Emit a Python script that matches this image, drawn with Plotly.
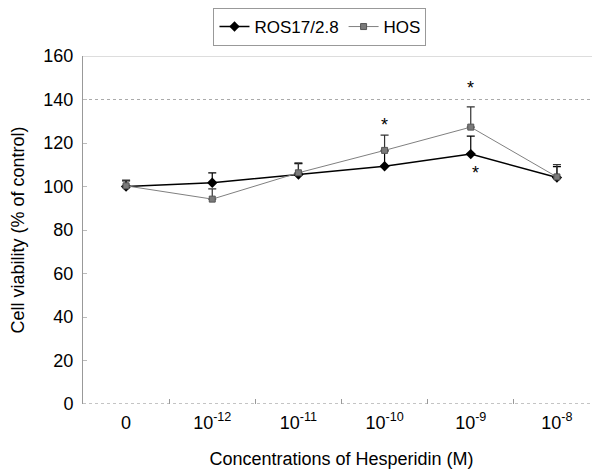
import plotly.graph_objects as go

categories = ["0", "10<sup>-12</sup>", "10<sup>-11</sup>", "10<sup>-10</sup>", "10<sup>-9</sup>", "10<sup>-8</sup>"]
ros_values = [100.0, 101.7, 105.5, 109.3, 114.9, 104.1]
ros_err = [2.6, 4.6, 5.0, 7.0, 8.3, 5.0]
hos_values = [100.3, 94.2, 106.3, 116.6, 127.3, 104.4]
hos_err = [2.6, 4.7, 4.6, 7.0, 9.3, 5.7]
star_cats = [3, 4, 4]
star_vals = [128.5, 145.5, 106.0]
star_dx = [0, 0, 0.06]

x = list(range(len(categories)))
FONT = "Liberation Sans, Arial, sans-serif"

fig = go.Figure()
fig.add_trace(go.Scatter(
    x=x, y=ros_values, name="ROS17/2.8", mode="lines+markers",
    line=dict(color="black", width=1.5),
    marker=dict(symbol="diamond", size=8, color="black"),
    error_y=dict(type="data", array=ros_err, arrayminus=[0]*len(ros_err),
                 color="black", thickness=1.2, width=4),
))
fig.add_trace(go.Scatter(
    x=x, y=hos_values, name="HOS", mode="lines+markers",
    line=dict(color="#808080", width=1),
    marker=dict(symbol="square", size=6, color="#7a7a7a", line=dict(color="#555", width=1)),
    error_y=dict(type="data", array=hos_err, arrayminus=[0]*len(hos_err),
                 color="#333", thickness=1.2, width=4),
))

for c, v, dx in zip(star_cats, star_vals, star_dx):
    fig.add_annotation(x=c + dx, y=v, text="*", showarrow=False,
                       font=dict(family=FONT, size=18, color="black"))

for yv, dash, col in [(140, "dot", "#aaaaaa"), (160, "solid", "#bbbbbb"), (0, "dot", "#888888")]:
    fig.add_shape(type="line", xref="paper", x0=0, x1=1, yref="y", y0=yv, y1=yv,
                  line=dict(color=col, width=1, dash=dash), layer="below")

fig.update_layout(
    width=592, height=463,
    margin=dict(l=75, r=0, t=48, b=67),
    paper_bgcolor="white", plot_bgcolor="white",
    font=dict(family=FONT, color="black"),
    showlegend=True,
    legend=dict(orientation="h", xref="container", yref="container",
                x=0.527, xanchor="center", y=1.0, yanchor="top",
                bordercolor="#999", borderwidth=1,
                font=dict(family=FONT, size=17), itemwidth=30,
                tracegroupgap=0),
    xaxis=dict(
        tickmode="array", tickvals=x, ticktext=categories,
        range=[-0.5, len(categories) - 0.5], automargin=False,
        showgrid=False, zeroline=False, showline=False,
        ticks="", tickfont=dict(family=FONT, size=18), ticklabelstandoff=6,
        title=dict(text="Concentrations of Hesperidin (M)", font=dict(family=FONT, size=18), standoff=20),
    ),
    yaxis=dict(
        range=[0, 160], tickvals=[0, 20, 40, 60, 80, 100, 120, 140, 160], automargin=False,
        showgrid=False, zeroline=False, showline=True, linecolor="#999", linewidth=1,
        ticks="inside", ticklen=4, tickcolor="#bbb",
        tickfont=dict(family=FONT, size=18), ticklabelstandoff=5,
        title=dict(text="Cell viability (% of control)", font=dict(family=FONT, size=18), standoff=14),
    ),
)

# category boundary tick marks on an overlaid axis
fig.update_layout(xaxis2=dict(
    overlaying="x", side="bottom", range=[-0.5, len(categories) - 0.5], automargin=False,
    tickmode="array", tickvals=[i + 0.5 for i in range(len(categories) - 1)],
    ticktext=[""] * (len(categories) - 1), ticks="inside", ticklen=5, tickcolor="#999",
    showgrid=False, zeroline=False, showline=False, anchor="y",
))
fig.add_trace(go.Scatter(x=[], y=[], xaxis="x2", showlegend=False))

fig.write_html("out.html")
